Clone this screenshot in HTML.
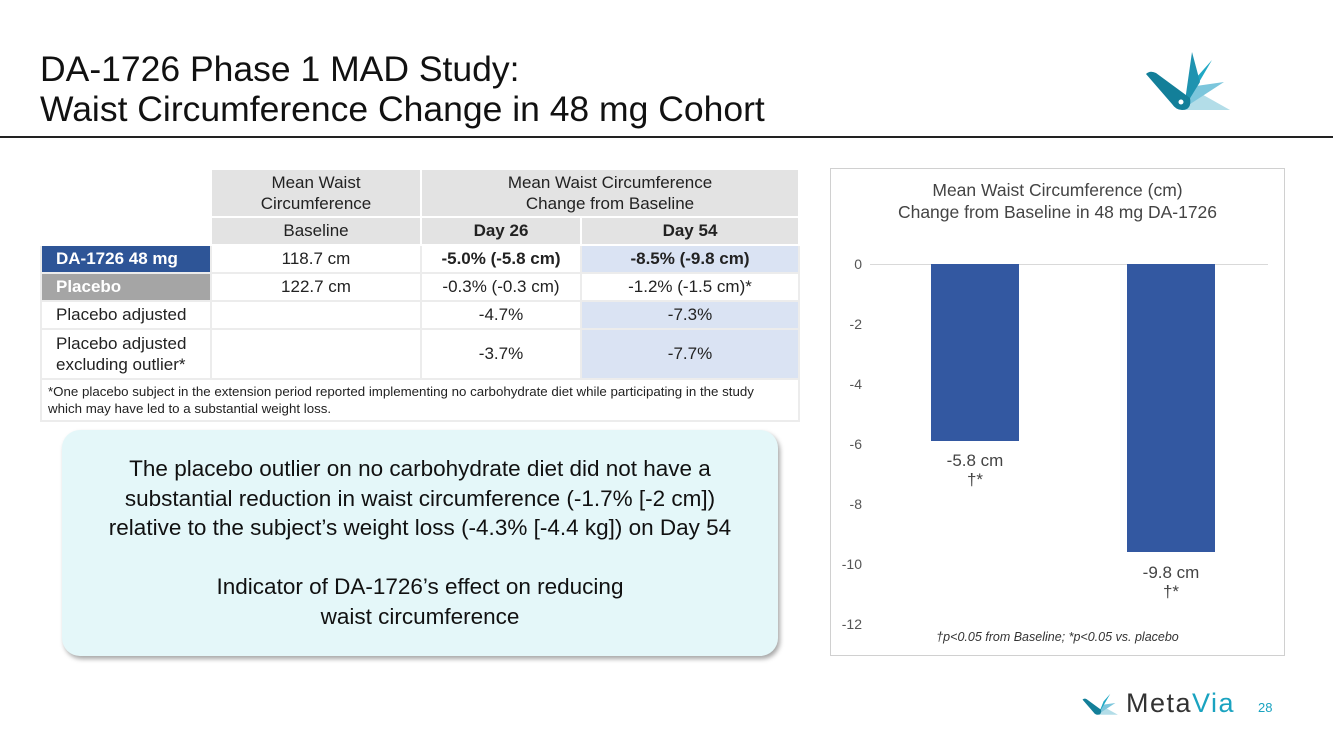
<!DOCTYPE html>
<html><head><style>
body{margin:0;width:1333px;height:749px;background:#fff;font-family:"Liberation Sans",sans-serif;position:relative;overflow:hidden}
.a{position:absolute}
table{border-collapse:collapse;position:absolute;left:40px;top:168px;font-size:17px;color:#222;table-layout:fixed}
td{border:2px solid #ececec;text-align:center;padding:0;height:26px;white-space:nowrap}
.h{background:#e3e3e3;border-color:#fff}
.l{text-align:left;padding-left:14px}
.tk{position:absolute;left:834px;width:28px;text-align:right;font-size:14px;color:#555}
</style></head><body>
<div class="a" style="left:40px;top:49px;font-size:35.5px;line-height:40px;color:#111">DA-1726 Phase 1 MAD Study:<br>Waist Circumference Change in 48 mg Cohort</div>
<svg class="a" style="left:1140px;top:48px" width="95" height="68" viewBox="0 0 95 68">
<polygon points="44,62 90,62 58,44" fill="#b3dde8"/>
<polygon points="44,60 84,34 56,38" fill="#7cc6dc"/>
<polygon points="44,60 72,12 56,30" fill="#20a8c4"/>
<polygon points="44,60 52,4 60,34" fill="#1f93b0"/>
<path d="M6,26 Q10,22 16,25 L50,50 Q52,62 42,62 Q36,62 32,56 Z" fill="#137f99"/>
<circle cx="41" cy="54" r="2.5" fill="#fff"/>
</svg>
<div class="a" style="left:0;top:136px;width:1333px;height:2px;background:#222"></div>
<table>
<tr><td style="width:168px;height:46px;border-color:#fff"></td><td class="h" style="width:208px;line-height:21px">Mean Waist<br>Circumference</td><td class="h" colspan="2" style="line-height:21px">Mean Waist Circumference<br>Change from Baseline</td></tr>
<tr><td style="border-color:#fff"></td><td class="h">Baseline</td><td class="h" style="width:158px"><b>Day 26</b></td><td class="h" style="width:216px"><b>Day 54</b></td></tr>
<tr><td class="l" style="background:#2e5597;color:#fff"><b>DA-1726 48 mg</b></td><td>118.7 cm</td><td><b>-5.0% (-5.8 cm)</b></td><td style="background:#dae3f3"><b>-8.5% (-9.8 cm)</b></td></tr>
<tr><td class="l" style="background:#a5a5a5;color:#fff"><b>Placebo</b></td><td>122.7 cm</td><td>-0.3% (-0.3 cm)</td><td>-1.2% (-1.5 cm)*</td></tr>
<tr><td class="l">Placebo adjusted</td><td></td><td>-4.7%</td><td style="background:#dae3f3">-7.3%</td></tr>
<tr><td class="l" style="height:48px;line-height:21px">Placebo adjusted<br>excluding outlier*</td><td></td><td>-3.7%</td><td style="background:#dae3f3">-7.7%</td></tr>
<tr><td colspan="4" style="text-align:left;padding:3px 6px;font-size:13.3px;line-height:17px;height:34px;white-space:normal">*One placebo subject in the extension period reported implementing no carbohydrate diet while participating in the study<br>which may have led to a substantial weight loss.</td></tr>
</table>
<div class="a" style="left:62px;top:430px;width:716px;height:226px;background:#e4f7f9;border-radius:18px;box-shadow:2px 3px 5px rgba(0,0,0,.35);text-align:center;font-size:22.5px;line-height:29.5px;color:#111;box-sizing:border-box;padding-top:24px">The placebo outlier on no carbohydrate diet did not have a<br>substantial reduction in waist circumference (-1.7% [-2 cm])<br>relative to the subject’s weight loss (-4.3% [-4.4 kg]) on Day 54<br><br>Indicator of DA-1726’s effect on reducing<br>waist circumference</div>
<div class="a" style="left:830px;top:168px;width:455px;height:488px;border:1px solid #d0d0d0;box-sizing:border-box"></div>
<div class="a" style="left:830px;top:179px;width:455px;text-align:center;font-size:17.5px;line-height:22px;color:#444">Mean Waist Circumference (cm)<br>Change from Baseline in 48 mg DA-1726</div>
<div class="a" style="left:870px;top:264px;width:398px;height:1px;background:#d9d9d9"></div>
<div class="tk" style="top:256px">0</div><div class="tk" style="top:316px">-2</div><div class="tk" style="top:376px">-4</div><div class="tk" style="top:436px">-6</div><div class="tk" style="top:496px">-8</div><div class="tk" style="top:556px">-10</div><div class="tk" style="top:616px">-12</div>
<div class="a" style="left:931px;top:264px;width:88px;height:177px;background:#3358a1"></div>
<div class="a" style="left:1127px;top:264px;width:88px;height:288px;background:#3358a1"></div>
<div class="a" style="left:915px;top:451px;width:120px;text-align:center;font-size:17px;line-height:19px;color:#444">-5.8 cm<br>†*</div>
<div class="a" style="left:1111px;top:563px;width:120px;text-align:center;font-size:17px;line-height:19px;color:#444">-9.8 cm<br>†*</div>
<div class="a" style="left:830px;top:630px;width:455px;text-align:center;font-size:12.5px;font-style:italic;color:#333">†p&lt;0.05 from Baseline; *p&lt;0.05 vs. placebo</div>
<svg class="a" style="left:1080px;top:688px" width="40" height="30" viewBox="0 0 95 68"><polygon points="44,62 90,62 58,44" fill="#b3dde8"/><polygon points="44,60 84,34 56,38" fill="#7cc6dc"/><polygon points="44,60 72,12 56,30" fill="#20a8c4"/><path d="M6,26 Q10,22 16,25 L50,50 Q52,62 42,62 Q36,62 32,56 Z" fill="#137f99"/></svg>
<div class="a" style="left:1126px;top:688px;font-size:27px;letter-spacing:1.5px;color:#333">Meta<span style="color:#1aa3c0">Via</span></div>
<div class="a" style="left:1258px;top:700px;font-size:13px;color:#1aa3c0">28</div>
</body></html>
